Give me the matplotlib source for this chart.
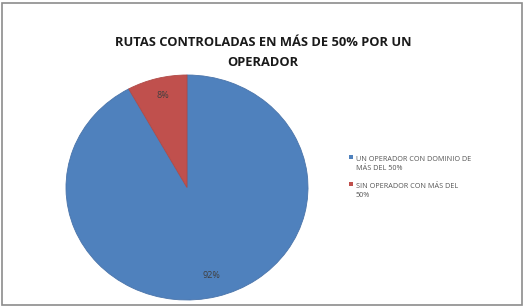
import matplotlib
matplotlib.use("Agg")
import matplotlib.pyplot as plt
from matplotlib.patches import Rectangle

categories = ["UN OPERADOR CON DOMINIO DE\nMÁS DEL 50%", "SIN OPERADOR CON MÁS DEL\n50%"]
values = [92, 8]
colors = ["#4F81BD", "#C0504D"]
title_lines = ["RUTAS CONTROLADAS EN MÁS DE 50% POR UN", "OPERADOR"]

W, H = 524, 307
fig = plt.figure(figsize=(W / 100, H / 100), dpi=100)
fig.patch.set_facecolor("white")

# outer frame
fig.add_artist(Rectangle((2 / W, 2 / H), (W - 4) / W, (H - 5) / H, transform=fig.transFigure,
                         fill=False, edgecolor="#8c8c8c", linewidth=1.2))

ax = fig.add_axes([66 / W, (H - 300) / H, 242 / W, 225 / H])
wedges, texts, autotexts = ax.pie(values, colors=colors, startangle=90, counterclock=False,
                                  autopct=lambda p: f"{p:.0f}%", pctdistance=0.81,
                                  wedgeprops=dict(linewidth=0.6, edgecolor="#4a74aa"),
                                  textprops=dict(fontsize=6.5, color="#404040", family="Open Sans"))
wedges[1].set_edgecolor("#b04a47")
ax.set_aspect("auto")
ax.set_xlim(-1, 1)
ax.set_ylim(-1, 1)
x0, y0 = autotexts[1].get_position()
autotexts[1].set_position((x0, y0 + 0.03))

for line, y in zip(title_lines, [43, 63]):
    fig.text(263 / W, 1 - y / H, line, ha="center", va="center", fontsize=9.3,
             fontweight="bold", family="Open Sans", color="#1a1a1a")

# legend
leg_y = [164, 191]
for lab, c, y in zip(categories, colors, leg_y):
    fig.add_artist(Rectangle((349 / W, 1 - (y - 5) / H), 4 / W, 4 / H, transform=fig.transFigure,
                             facecolor=c, edgecolor="none"))
    fig.text(356 / W, 1 - y / H, lab, ha="left", va="center", fontsize=5.2,
             family="Open Sans", color="#555555", linespacing=1.5)

fig.savefig("out.png", dpi=100, facecolor="white")
